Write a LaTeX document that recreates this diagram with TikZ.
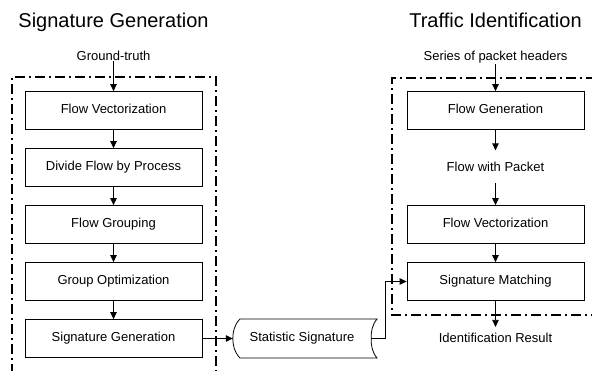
\documentclass[tikz,border=0pt]{standalone}
\usepackage{fontspec}
\setmainfont{Liberation Sans}
\usetikzlibrary{arrows.meta}

\begin{document}
\begin{tikzpicture}[x=1pt, y=-1pt, >={Triangle[length=7pt,width=6.5pt]},
	proc/.style={draw, line width=0.8pt, minimum width=177pt, minimum height=38pt, text height=9.5pt, text depth=2.7pt, font=\fontsize{13}{15}\selectfont},
	lbl/.style={anchor=base, inner sep=1pt, font=\fontsize{13}{15}\selectfont},
	ttl/.style={anchor=base, font=\fontsize{20}{24}\selectfont},
	frame/.style={line width=2.2pt, dash pattern=on 10pt off 4pt on 2pt off 4pt},
	flow/.style={->, line width=0.8pt}]
	\useasboundingbox (0,0) rectangle (592,370);
	% left column: signature generation
	\node[ttl] (sgtitle) at (113.5,27) {Signature Generation};
	\node[lbl] (gt) at (113.5,60) {Ground-truth};
	\draw[frame] (12,374) -- (12,77) -- (216,77) -- (216,374);
	\node[proc] (fv) at (113.5,110.5) {Flow Vectorization};
	\node[proc] (dfp) at (113.5,167.5) {Divide Flow by Process};
	\node[proc] (fg) at (113.5,224.5) {Flow Grouping};
	\node[proc] (go) at (113.5,281.5) {Group Optimization};
	\node[proc] (sg) at (113.5,338.5) {Signature Generation};
	\draw[flow] (gt) -- (fv); \draw[flow] (fv) -- (dfp); \draw[flow] (dfp) -- (fg);
	\draw[flow] (fg) -- (go); \draw[flow] (go) -- (sg);
	% stored signature between the two sides
	\node[minimum width=138pt, minimum height=39pt, font=\fontsize{13}{15}\selectfont] (stat) at (302,338.5) {Statistic Signature};
	\draw[line width=0.8pt] (240,319) -- (377,319) .. controls (372,325) and (371,332) .. (stat.east)
		.. controls (371,345) and (372,352) .. (377,358) -- (240,358)
		.. controls (234,352) and (233,345) .. (stat.west) .. controls (233,332) and (234,325) .. cycle;
	\draw[flow] (sg) -- (stat);
	% right column: traffic identification
	\node[ttl] (tititle) at (495.5,27) {Traffic Identification};
	\node[lbl] (sph) at (495.5,60) {Series of packet headers};
	\draw[frame] (596,78) -- (392,78) -- (392,315) -- (596,315);
	\node[proc] (fgen) at (495.5,110.5) {Flow Generation};
	\node[lbl, inner ysep=11.5pt] (fwp) at (495.5,171.5) {Flow with Packet};
	\node[proc] (fv2) at (495.5,224.5) {Flow Vectorization};
	\node[proc] (sm) at (495.5,281.5) {Signature Matching};
	\node[lbl, inner ysep=6pt] (ir) at (495.5,342.5) {Identification Result};
	\draw[flow] (sph) -- (fgen); \draw[flow] (fgen) -- (fwp); \draw[flow] (fwp) -- (fv2);
	\draw[flow] (fv2) -- (sm); \draw[flow] (sm) -- (ir);
	\draw[flow] (stat.east) -- ++(14,0) |- (sm.west);
\end{tikzpicture}
\end{document}
